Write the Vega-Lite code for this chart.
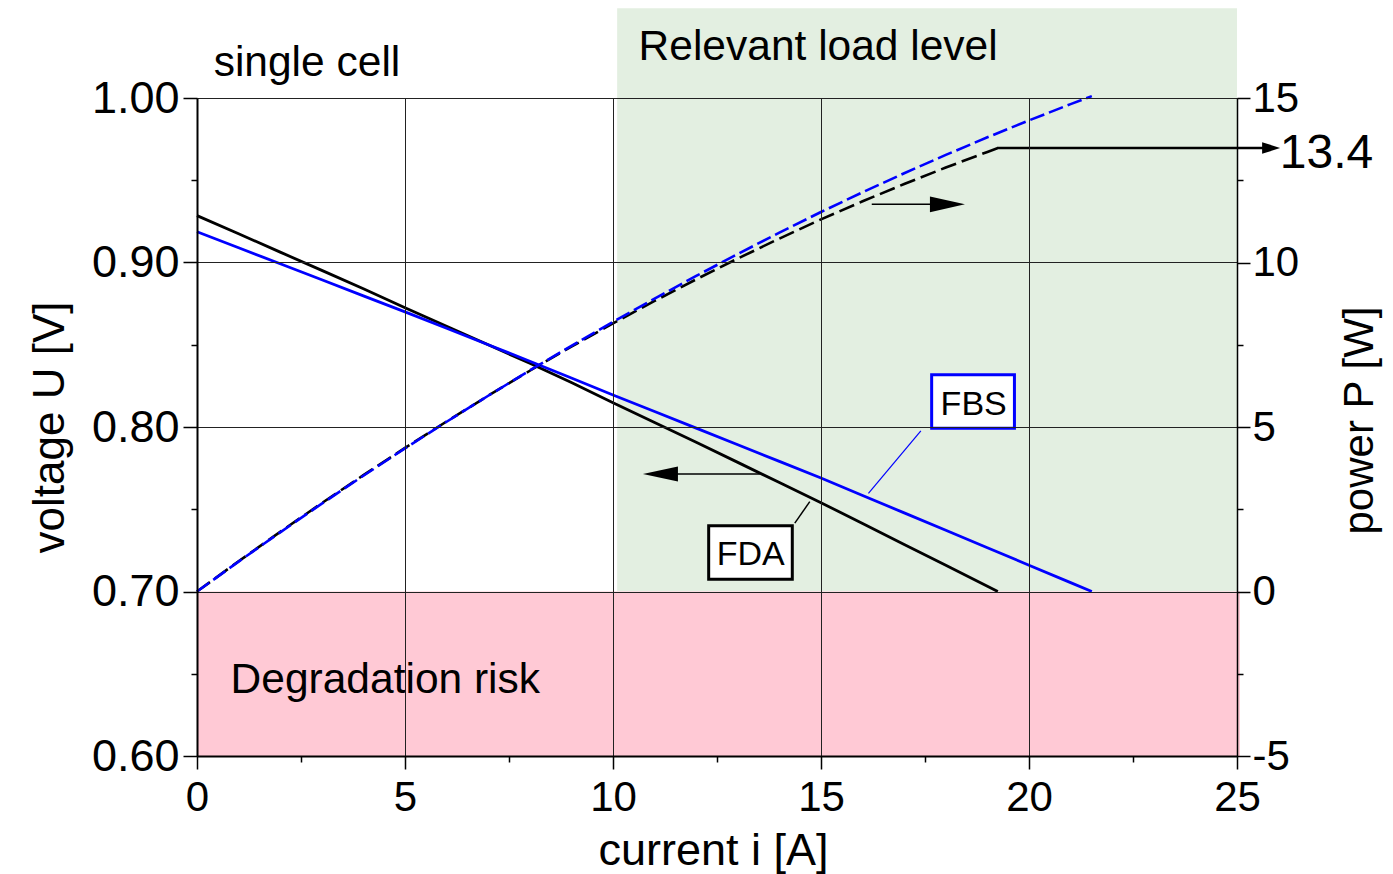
{
  "$schema": "https://vega.github.io/schema/vega-lite/v6.json",
  "width": 1040,
  "height": 658,
  "autosize": {"type": "none"},
  "padding": {"left": 197, "top": 98, "right": 156, "bottom": 118},
  "background": "white",
  "config": {
    "view": {"stroke": null},
    "font": "Liberation Sans",
    "text": {"font": "Liberation Sans"},
    "axis": {"labelFont": "Liberation Sans", "titleFont": "Liberation Sans"}
  },
  "datasets": {
    "curves": [
      {"cell": "FDA", "i": 0, "U": 0.9285, "P": 0},
      {"cell": "FDA", "i": 1, "U": 0.9175, "P": 0.918},
      {"cell": "FDA", "i": 2, "U": 0.9063, "P": 1.813},
      {"cell": "FDA", "i": 3, "U": 0.8952, "P": 2.686},
      {"cell": "FDA", "i": 4, "U": 0.884, "P": 3.536},
      {"cell": "FDA", "i": 5, "U": 0.8725, "P": 4.363},
      {"cell": "FDA", "i": 6, "U": 0.8613, "P": 5.168},
      {"cell": "FDA", "i": 7, "U": 0.85, "P": 5.95},
      {"cell": "FDA", "i": 8, "U": 0.8387, "P": 6.71},
      {"cell": "FDA", "i": 9, "U": 0.827, "P": 7.443},
      {"cell": "FDA", "i": 10, "U": 0.8148, "P": 8.148},
      {"cell": "FDA", "i": 11, "U": 0.8028, "P": 8.831},
      {"cell": "FDA", "i": 12, "U": 0.7907, "P": 9.488},
      {"cell": "FDA", "i": 13, "U": 0.7785, "P": 10.121},
      {"cell": "FDA", "i": 14, "U": 0.7662, "P": 10.727},
      {"cell": "FDA", "i": 15, "U": 0.754, "P": 11.31},
      {"cell": "FDA", "i": 16, "U": 0.7413, "P": 11.861},
      {"cell": "FDA", "i": 17, "U": 0.7286, "P": 12.386},
      {"cell": "FDA", "i": 18, "U": 0.7159, "P": 12.886},
      {"cell": "FDA", "i": 19, "U": 0.7032, "P": 13.361},
      {"cell": "FDA", "i": 19.25, "U": 0.7, "P": 13.475},
      {"cell": "FBS", "i": 0, "U": 0.9187, "P": 0},
      {"cell": "FBS", "i": 1, "U": 0.909, "P": 0.909},
      {"cell": "FBS", "i": 2, "U": 0.8992, "P": 1.798},
      {"cell": "FBS", "i": 3, "U": 0.8895, "P": 2.669},
      {"cell": "FBS", "i": 4, "U": 0.8797, "P": 3.519},
      {"cell": "FBS", "i": 5, "U": 0.87, "P": 4.35},
      {"cell": "FBS", "i": 6, "U": 0.86, "P": 5.16},
      {"cell": "FBS", "i": 7, "U": 0.85, "P": 5.95},
      {"cell": "FBS", "i": 8, "U": 0.84, "P": 6.72},
      {"cell": "FBS", "i": 9, "U": 0.8298, "P": 7.468},
      {"cell": "FBS", "i": 10, "U": 0.8195, "P": 8.195},
      {"cell": "FBS", "i": 11, "U": 0.8094, "P": 8.903},
      {"cell": "FBS", "i": 12, "U": 0.7993, "P": 9.592},
      {"cell": "FBS", "i": 13, "U": 0.7892, "P": 10.26},
      {"cell": "FBS", "i": 14, "U": 0.7791, "P": 10.907},
      {"cell": "FBS", "i": 15, "U": 0.769, "P": 11.535},
      {"cell": "FBS", "i": 16, "U": 0.7584, "P": 12.134},
      {"cell": "FBS", "i": 17, "U": 0.7478, "P": 12.713},
      {"cell": "FBS", "i": 18, "U": 0.7372, "P": 13.27},
      {"cell": "FBS", "i": 19, "U": 0.7266, "P": 13.805},
      {"cell": "FBS", "i": 20, "U": 0.716, "P": 14.32},
      {"cell": "FBS", "i": 21, "U": 0.7054, "P": 14.813},
      {"cell": "FBS", "i": 21.51, "U": 0.7, "P": 15.057}
    ]
  },
  "layer": [
    {
      "layer": [
        {
          "data": {"values": [{"name": "Relevant load level", "i1": 10.1, "i2": 25, "v1": 0.7, "v2": 1.0545}]},
          "mark": {"type": "rect", "color": "#e3efe1"},
          "encoding": {
            "x": {
              "field": "i1", "type": "quantitative",
              "scale": {"domain": [0, 25], "nice": false, "zero": false},
              "axis": {
                "values": [0, 2.5, 5, 7.5, 10, 12.5, 15, 17.5, 20, 22.5, 25],
                "labelExpr": "round(datum.value*2) % 2 === 1 ? '' : '' + datum.value",
                "title": "current i [A]",
                "titleFontSize": 45, "titleFontWeight": "normal", "titleColor": "black",
                "titleX": 516, "titleY": 108, "titleAlign": "center", "titleBaseline": "alphabetic",
                "labelFontSize": 42, "labelColor": "black", "labelPadding": 8,
                "labelFlush": false, "labelOverlap": false, "labelBound": false,
                "tickSize": {"condition": {"test": "round(datum.value*2) % 2 === 1", "value": 6}, "value": 13},
                "tickColor": "black", "tickWidth": 1.5,
                "domainColor": "black", "domainWidth": 2,
                "grid": true, "gridColor": "#222222", "gridWidth": 1,
                "gridOpacity": {"condition": {"test": "round(datum.value*2) % 2 === 1", "value": 0}, "value": 1},
                "zindex": 1
              }
            },
            "x2": {"field": "i2"},
            "y": {
              "field": "v1", "type": "quantitative",
              "scale": {"domain": [0.6, 1.0], "nice": false, "zero": false},
              "axis": {
                "orient": "left",
                "values": [0.6, 0.65, 0.7, 0.75, 0.8, 0.85, 0.9, 0.95, 1.0],
                "labelExpr": "round(datum.value*20) % 2 === 1 ? '' : format(datum.value, '.2f')",
                "title": "voltage U [V]",
                "titleFontSize": 44, "titleFontWeight": "normal", "titleColor": "black",
                "titleAngle": 270, "titleX": -134, "titleY": 329, "titleAlign": "center", "titleBaseline": "alphabetic",
                "labelFontSize": 45, "labelColor": "black", "labelPadding": 4,
                "labelFlush": false, "labelOverlap": false, "labelBound": false,
                "tickSize": {"condition": {"test": "round(datum.value*20) % 2 === 1", "value": 6}, "value": 14},
                "tickColor": "black", "tickWidth": 1.5,
                "domainColor": "black", "domainWidth": 2,
                "grid": true, "gridColor": "#222222", "gridWidth": 1,
                "gridOpacity": {"condition": {"test": "round(datum.value*20) % 2 === 1", "value": 0}, "value": 1},
                "zindex": 1
              }
            },
            "y2": {"field": "v2"}
          }
        },
        {
          "data": {"values": [{"name": "Degradation risk", "i1": 0, "i2": 25.07, "v1": 0.6, "v2": 0.7}]},
          "mark": {"type": "rect", "color": "#ffc9d5"},
          "encoding": {
            "x": {"field": "i1", "type": "quantitative", "scale": {"domain": [0, 25], "nice": false, "zero": false}},
            "x2": {"field": "i2"},
            "y": {"field": "v1", "type": "quantitative", "scale": {"domain": [0.6, 1.0], "nice": false, "zero": false}},
            "y2": {"field": "v2"}
          }
        },
        {
          "data": {"name": "curves"},
          "transform": [{"filter": "datum.cell === 'FDA'"}],
          "mark": {"type": "line", "color": "black", "strokeWidth": 2.8},
          "encoding": {
            "x": {"field": "i", "type": "quantitative", "scale": {"domain": [0, 25], "nice": false, "zero": false}},
            "y": {"field": "U", "type": "quantitative", "scale": {"domain": [0.6, 1.0], "nice": false, "zero": false}}
          }
        },
        {
          "data": {"name": "curves"},
          "transform": [{"filter": "datum.cell === 'FBS'"}],
          "mark": {"type": "line", "color": "#0000ff", "strokeWidth": 2.8},
          "encoding": {
            "x": {"field": "i", "type": "quantitative", "scale": {"domain": [0, 25], "nice": false, "zero": false}},
            "y": {"field": "U", "type": "quantitative", "scale": {"domain": [0.6, 1.0], "nice": false, "zero": false}}
          }
        },
        {
          "data": {"values": [
            {"what": "FDA leader", "i1": 14.37, "i2": 14.73, "v1": 0.7416, "v2": 0.7546},
            {"what": "voltage arrow", "i1": 13.53, "i2": 11.3, "v1": 0.7714, "v2": 0.7714}
          ]},
          "mark": {"type": "rule", "color": "black", "strokeWidth": 1.5},
          "encoding": {
            "x": {"field": "i1", "type": "quantitative", "scale": {"domain": [0, 25], "nice": false, "zero": false}},
            "x2": {"field": "i2"},
            "y": {"field": "v1", "type": "quantitative", "scale": {"domain": [0.6, 1.0], "nice": false, "zero": false}},
            "y2": {"field": "v2"}
          }
        },
        {
          "data": {"values": [
            {"what": "FBS leader", "i1": 17.4, "i2": 16.14, "v1": 0.7976, "v2": 0.7597}
          ]},
          "mark": {"type": "rule", "color": "#0000ff", "strokeWidth": 1.2},
          "encoding": {
            "x": {"field": "i1", "type": "quantitative", "scale": {"domain": [0, 25], "nice": false, "zero": false}},
            "x2": {"field": "i2"},
            "y": {"field": "v1", "type": "quantitative", "scale": {"domain": [0.6, 1.0], "nice": false, "zero": false}},
            "y2": {"field": "v2"}
          }
        },
        {
          "data": {"values": [{"what": "voltage arrowhead", "i": 11.14, "U": 0.7714}]},
          "mark": {"type": "point", "shape": "M-1,0L1,-0.43L1,0.43Z", "filled": true, "color": "black", "opacity": 1, "strokeWidth": 0, "size": 1225},
          "encoding": {
            "x": {"field": "i", "type": "quantitative", "scale": {"domain": [0, 25], "nice": false, "zero": false}},
            "y": {"field": "U", "type": "quantitative", "scale": {"domain": [0.6, 1.0], "nice": false, "zero": false}}
          }
        },
        {
          "data": {"values": [{"label": "FDA", "i1": 12.3, "i2": 14.31, "v1": 0.7074, "v2": 0.74}]},
          "mark": {"type": "rect", "fill": "white", "stroke": "black", "strokeWidth": 3},
          "encoding": {
            "x": {"field": "i1", "type": "quantitative", "scale": {"domain": [0, 25], "nice": false, "zero": false}},
            "x2": {"field": "i2"},
            "y": {"field": "v1", "type": "quantitative", "scale": {"domain": [0.6, 1.0], "nice": false, "zero": false}},
            "y2": {"field": "v2"}
          }
        },
        {
          "data": {"values": [{"label": "FBS", "i1": 17.66, "i2": 19.65, "v1": 0.7992, "v2": 0.8318}]},
          "mark": {"type": "rect", "fill": "white", "stroke": "#0000ff", "strokeWidth": 3},
          "encoding": {
            "x": {"field": "i1", "type": "quantitative", "scale": {"domain": [0, 25], "nice": false, "zero": false}},
            "x2": {"field": "i2"},
            "y": {"field": "v1", "type": "quantitative", "scale": {"domain": [0.6, 1.0], "nice": false, "zero": false}},
            "y2": {"field": "v2"}
          }
        },
        {
          "data": {"values": [
            {"label": "FDA", "i": 13.31, "U": 0.7161},
            {"label": "FBS", "i": 18.67, "U": 0.8073}
          ]},
          "mark": {"type": "text", "fontSize": 34, "color": "black", "align": "center", "baseline": "alphabetic"},
          "encoding": {
            "x": {"field": "i", "type": "quantitative", "scale": {"domain": [0, 25], "nice": false, "zero": false}},
            "y": {"field": "U", "type": "quantitative", "scale": {"domain": [0.6, 1.0], "nice": false, "zero": false}},
            "text": {"field": "label"}
          }
        },
        {
          "data": {"values": [
            {"label": "single cell", "i": 0.4, "U": 1.0134},
            {"label": "Relevant load level", "i": 10.615, "U": 1.0231},
            {"label": "Degradation risk", "i": 0.808, "U": 0.6385}
          ]},
          "mark": {"type": "text", "fontSize": 42.5, "color": "black", "align": "left", "baseline": "alphabetic"},
          "encoding": {
            "x": {"field": "i", "type": "quantitative", "scale": {"domain": [0, 25], "nice": false, "zero": false}},
            "y": {"field": "U", "type": "quantitative", "scale": {"domain": [0.6, 1.0], "nice": false, "zero": false}},
            "text": {"field": "label"}
          }
        }
      ]
    },
    {
      "layer": [
        {
          "data": {"name": "curves"},
          "transform": [{"filter": "datum.cell === 'FDA'"}],
          "mark": {"type": "line", "color": "black", "strokeWidth": 2.6, "strokeDash": [16, 6]},
          "encoding": {
            "x": {"field": "i", "type": "quantitative", "scale": {"domain": [0, 25], "nice": false, "zero": false}},
            "y": {
              "field": "P", "type": "quantitative",
              "scale": {"domain": [-5, 15], "nice": false, "zero": false},
              "axis": {
                "orient": "right",
                "values": [-5, -2.5, 0, 2.5, 5, 7.5, 10, 12.5, 15],
                "labelExpr": "round(datum.value*2) % 2 !== 0 ? '' : '' + datum.value",
                "title": "power P [W]",
                "titleFontSize": 42, "titleFontWeight": "normal", "titleColor": "black",
                "titleAngle": 270, "titleX": 135, "titleY": 322, "titleAlign": "center", "titleBaseline": "alphabetic",
                "labelFontSize": 42, "labelColor": "black", "labelPadding": 2,
                "labelFlush": false, "labelOverlap": false, "labelBound": false,
                "tickSize": {"condition": {"test": "round(datum.value*2) % 2 !== 0", "value": 6}, "value": 13},
                "tickColor": "black", "tickWidth": 1.5,
                "domainColor": "black", "domainWidth": 1.5,
                "grid": false,
                "zindex": 1
              }
            }
          }
        },
        {
          "data": {"name": "curves"},
          "transform": [{"filter": "datum.cell === 'FBS'"}],
          "mark": {"type": "line", "color": "#0000ff", "strokeWidth": 2.6, "strokeDash": [15, 5]},
          "encoding": {
            "x": {"field": "i", "type": "quantitative", "scale": {"domain": [0, 25], "nice": false, "zero": false}},
            "y": {"field": "P", "type": "quantitative", "scale": {"domain": [-5, 15], "nice": false, "zero": false}}
          }
        },
        {
          "data": {"values": [{"what": "power arrow", "i1": 16.22, "i2": 17.9, "p": 11.77}]},
          "mark": {"type": "rule", "color": "black", "strokeWidth": 1.5},
          "encoding": {
            "x": {"field": "i1", "type": "quantitative", "scale": {"domain": [0, 25], "nice": false, "zero": false}},
            "x2": {"field": "i2"},
            "y": {"field": "p", "type": "quantitative", "scale": {"domain": [-5, 15], "nice": false, "zero": false}}
          }
        },
        {
          "data": {"values": [{"what": "max power FDA", "i1": 19.23, "i2": 25.7, "p": 13.48}]},
          "mark": {"type": "rule", "color": "black", "strokeWidth": 2.5},
          "encoding": {
            "x": {"field": "i1", "type": "quantitative", "scale": {"domain": [0, 25], "nice": false, "zero": false}},
            "x2": {"field": "i2"},
            "y": {"field": "p", "type": "quantitative", "scale": {"domain": [-5, 15], "nice": false, "zero": false}}
          }
        },
        {
          "data": {"values": [{"what": "power arrowhead", "i": 18.04, "p": 11.77}]},
          "mark": {"type": "point", "shape": "M1,0L-1,-0.45L-1,0.45Z", "filled": true, "color": "black", "opacity": 1, "strokeWidth": 0, "size": 1225},
          "encoding": {
            "x": {"field": "i", "type": "quantitative", "scale": {"domain": [0, 25], "nice": false, "zero": false}},
            "y": {"field": "p", "type": "quantitative", "scale": {"domain": [-5, 15], "nice": false, "zero": false}}
          }
        },
        {
          "data": {"values": [{"what": "max power arrowhead", "i": 25.82, "p": 13.48}]},
          "mark": {"type": "point", "shape": "M1,0L-1,-0.65L-1,0.65Z", "filled": true, "color": "black", "opacity": 1, "strokeWidth": 0, "size": 324},
          "encoding": {
            "x": {"field": "i", "type": "quantitative", "scale": {"domain": [0, 25], "nice": false, "zero": false}},
            "y": {"field": "p", "type": "quantitative", "scale": {"domain": [-5, 15], "nice": false, "zero": false}}
          }
        },
        {
          "data": {"values": [{"label": "13.4", "i": 26.03, "p": 12.87}]},
          "mark": {"type": "text", "fontSize": 48, "color": "black", "align": "left", "baseline": "alphabetic"},
          "encoding": {
            "x": {"field": "i", "type": "quantitative", "scale": {"domain": [0, 25], "nice": false, "zero": false}},
            "y": {"field": "p", "type": "quantitative", "scale": {"domain": [-5, 15], "nice": false, "zero": false}},
            "text": {"field": "label"}
          }
        }
      ]
    }
  ],
  "resolve": {"scale": {"y": "independent"}}
}
